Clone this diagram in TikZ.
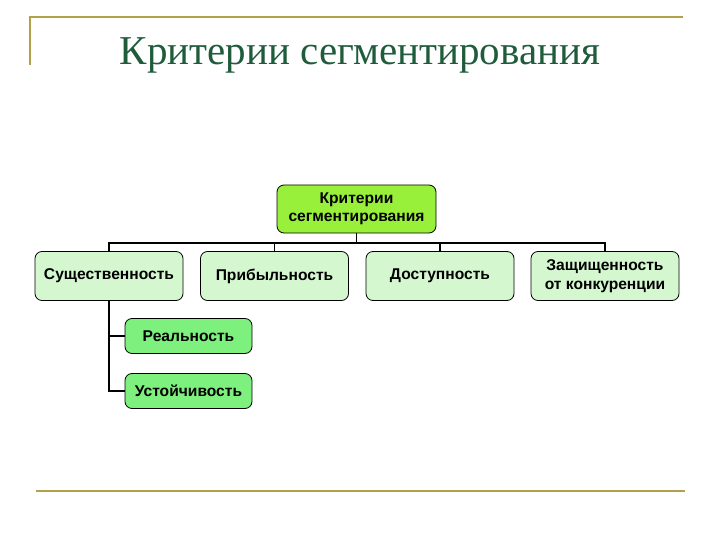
\documentclass[tikz,border=0pt]{standalone}
\usepackage{fontspec}
\setmainfont{Liberation Sans}
\newfontfamily\titlefont{Liberation Serif}
\definecolor{gold}{HTML}{B5A04A}
\definecolor{titlegreen}{HTML}{1F5C3C}
\definecolor{rootfill}{HTML}{99F03A}
\definecolor{palefill}{HTML}{D4F7D0}
\definecolor{subfill}{HTML}{7EF07E}
\tikzset{
  box/.style={draw=black, line width=0.8pt, rounded corners=7pt, align=center, inner sep=0pt,
    font=\fontsize{15.6}{18.5}\selectfont\bfseries},
  rootbox/.style={box, fill=rootfill, minimum width=159pt, minimum height=48pt},
  lvlbox/.style={box, fill=palefill, minimum width=148pt, minimum height=49pt},
  subbox/.style={box, fill=subfill, minimum width=127pt, minimum height=35pt},
  conn/.style={draw=black, line width=1.6pt},
  frame/.style={draw=gold, line width=2pt}
}
\begin{document}
\begin{tikzpicture}[x=1pt,y=-1pt]
\useasboundingbox (0,0) rectangle (720,540);
% frame lines
\coordinate (tl) at (30,17.5);
\coordinate (tr) at (683,17.5);
\coordinate (tb) at (30,65);
\coordinate (bl) at (36,491);
\coordinate (br) at (685,491);
\draw[frame] (tb) -- (tl) -- (tr);
\draw[frame] (bl) -- (br);
\node[font=\titlefont\fontsize{41}{45}\selectfont, text=titlegreen, anchor=base, inner sep=0pt] (title) at (360,65) {Критерии сегментирования};
% boxes
\node[rootbox] (root) at (356.5,209) {Критерии\\сегментирования};
\node[lvlbox] (a) at (109,276) {Существенность};
\node[lvlbox] (b) at (274.5,276) {Прибыльность};
\node[lvlbox] (c) at (440,276) {Доступность};
\node[lvlbox] (d) at (605,276) {Защищенность\\от конкуренции};
\node[subbox] (s1) at (188.5,336) {Реальность};
\node[subbox] (s2) at (188.5,391) {Устойчивость};
% connectors
\coordinate (bus) at (356.5,243);
\draw[conn] (root.south) -- (bus);
\draw[conn] (a.north) |- (bus) -| (d.north);
\draw[conn] (b.north) -- (b.north |- bus);
\draw[conn] (c.north) -- (c.north |- bus);
\draw[conn] (a.south) |- (s2.west);
\draw[conn] (a.south |- s1.west) -- (s1.west);
\end{tikzpicture}
\end{document}
